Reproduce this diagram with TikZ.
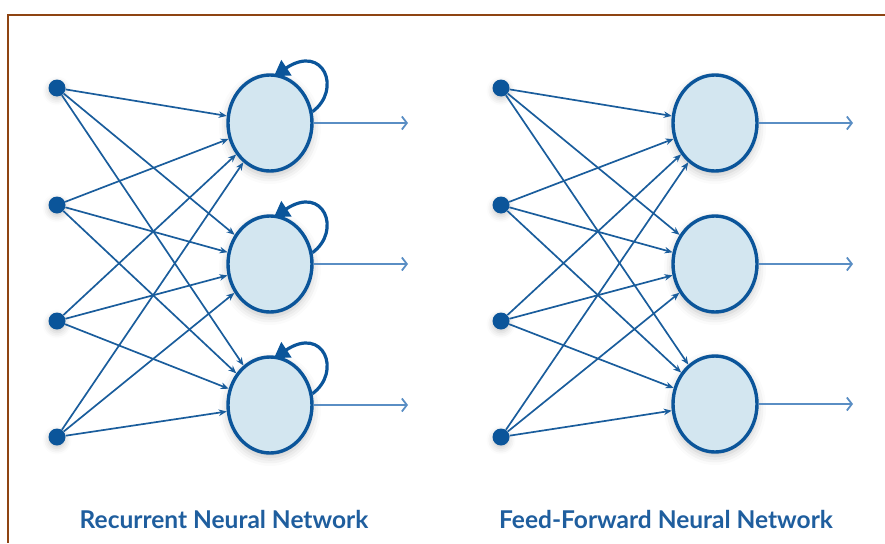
\documentclass[tikz,border=0pt]{standalone}
\usepackage{fontspec}
\setmainfont{Lato}
\usetikzlibrary{arrows.meta,calc,shapes.geometric,shadows.blur}

\definecolor{netblue}{HTML}{0B559A}
\definecolor{linkblue}{HTML}{1A5D9C}
\definecolor{outblue}{HTML}{5A8EC4}
\definecolor{cellfill}{HTML}{D3E6F0}
\definecolor{framebrown}{HTML}{8E4412}
\definecolor{titleblue}{HTML}{1F5E9E}

\tikzset{
  inputdot/.style={circle, fill=netblue, minimum size=17pt, inner sep=0pt,
    blur shadow={shadow xshift=0pt, shadow yshift=-3pt, shadow blur radius=6pt, shadow opacity=20}},
  cell/.style={ellipse, draw=netblue, line width=3.4pt, fill=cellfill,
    minimum width=84pt, minimum height=96pt, inner sep=0pt,
    blur shadow={shadow xshift=0pt, shadow yshift=-4pt, shadow blur radius=9pt, shadow opacity=25}},
  link/.style={draw=linkblue, line width=1.7pt, -{Stealth[length=8pt,width=6.5pt]}},
  outlink/.style={draw=outblue, line width=2.6pt, -{Straight Barb[length=5pt,width=13pt,line width=1.8pt]}},
  selfloop/.style={draw=netblue, line width=3.2pt, -{Triangle[length=15pt,width=18pt]}},
  title/.style={font=\fontsize{24.5}{28}\selectfont\bfseries, text=titleblue, inner sep=0pt}
}

\begin{document}
\begin{tikzpicture}[x=1pt, y=-1pt]
\useasboundingbox (0,0) rectangle (885,543);

% frame
\draw[framebrown, line width=2.2pt] (885,15) -- (8,15) -- (8,543);

% ---------- recurrent network ----------
\foreach \i/\y in {1/88, 2/205, 3/321, 4/437}
  \node[inputdot] (ri\i) at (57,\y) {};
\foreach \j/\y in {1/123, 2/264, 3/405}
  \node[cell] (rh\j) at (270,\y) {};

\foreach \i in {1,...,4}
  \foreach \j in {1,2,3}
    \draw[link] (ri\i) -- (rh\j);

\foreach \j in {1,2,3} {
  \coordinate (ro\j) at ($(rh\j)+(138,0)$);
  \draw[outlink] (rh\j.east) -- (ro\j);
  \draw[selfloop] (rh\j.15) .. controls ($(rh\j)+(72,-33)$) and ($(rh\j)+(54,-80)$) .. ($(rh\j)+(4,-47)$);
}

\node[title] (rtitle) at (224,519) {Recurrent Neural Network};

% ---------- feed-forward network ----------
\foreach \i/\y in {1/88, 2/205, 3/321, 4/437}
  \node[inputdot] (fi\i) at (501,\y) {};
\foreach \j/\y in {1/123, 2/264, 3/404}
  \node[cell] (fh\j) at (715,\y) {};

\foreach \i in {1,...,4}
  \foreach \j in {1,2,3}
    \draw[link] (fi\i) -- (fh\j);

\foreach \j in {1,2,3} {
  \coordinate (fo\j) at ($(fh\j)+(138,0)$);
  \draw[outlink] (fh\j.east) -- (fo\j);
}

\node[title] (ftitle) at (666,519) {Feed-Forward Neural Network};
\end{tikzpicture}
\end{document}
